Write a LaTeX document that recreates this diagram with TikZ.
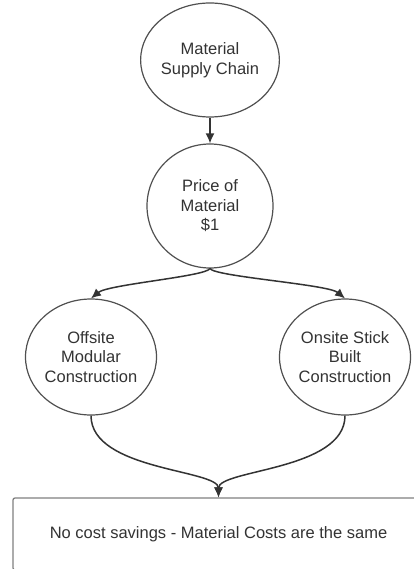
\documentclass[tikz,border=0pt]{standalone}
\usepackage{fontspec}
\setmainfont{Liberation Sans}
\usetikzlibrary{shapes.geometric,arrows.meta}
\definecolor{linec}{HTML}{333333}
\definecolor{circc}{HTML}{505050}
\definecolor{boxc}{HTML}{808080}
\definecolor{txtc}{HTML}{333333}
\begin{document}
\begin{tikzpicture}[x=1pt,y=-1pt,
  bubble/.style={ellipse,draw=circc,line width=1.2pt,inner sep=0pt,align=center,
    text=txtc,font=\fontsize{16.5}{19.5}\selectfont},
  resultbox/.style={rectangle,draw=boxc,line width=1.3pt,rounded corners=2pt,inner sep=0pt,
    text=txtc,font=\fontsize{16.5}{19.5}\selectfont},
  conn/.style={draw=linec,line width=1.5pt,-{Latex[length=10pt,width=9pt]}}]
\clip (0,0) rectangle (414,569);
\fill[white] (0,0) rectangle (414,569);
\node[bubble,minimum width=126pt,minimum height=114pt] (c1) at (210,60) {Material\\Supply Chain};
\node[bubble,minimum width=126pt,minimum height=124pt] (c2) at (210,206) {Price of\\Material\\\$1};
\node[bubble,minimum width=124pt,minimum height=116pt] (c3) at (91,357) {Offsite\\Modular\\Construction};
\node[bubble,minimum width=124pt,minimum height=116pt] (c4) at (345,357) {Onsite Stick\\Built\\Construction};
\node[resultbox,minimum width=411pt,minimum height=72pt] (res) at (218.5,534) {No cost savings - Material Costs are the same};
\draw[conn] (c1.south) -- (c2.north);
\draw[conn] (c2.south) .. controls +(-5,8) and +(17,-14) .. (c3.north);
\draw[conn] (c2.south) .. controls +(5,8) and +(-17,-14) .. (c4.north);
\draw[conn] (c3.south) .. controls +(0,55) and +(0,-28) .. (res.north);
\draw[conn] (c4.south) .. controls +(0,55) and +(0,-28) .. (res.north);
\end{tikzpicture}
\end{document}
